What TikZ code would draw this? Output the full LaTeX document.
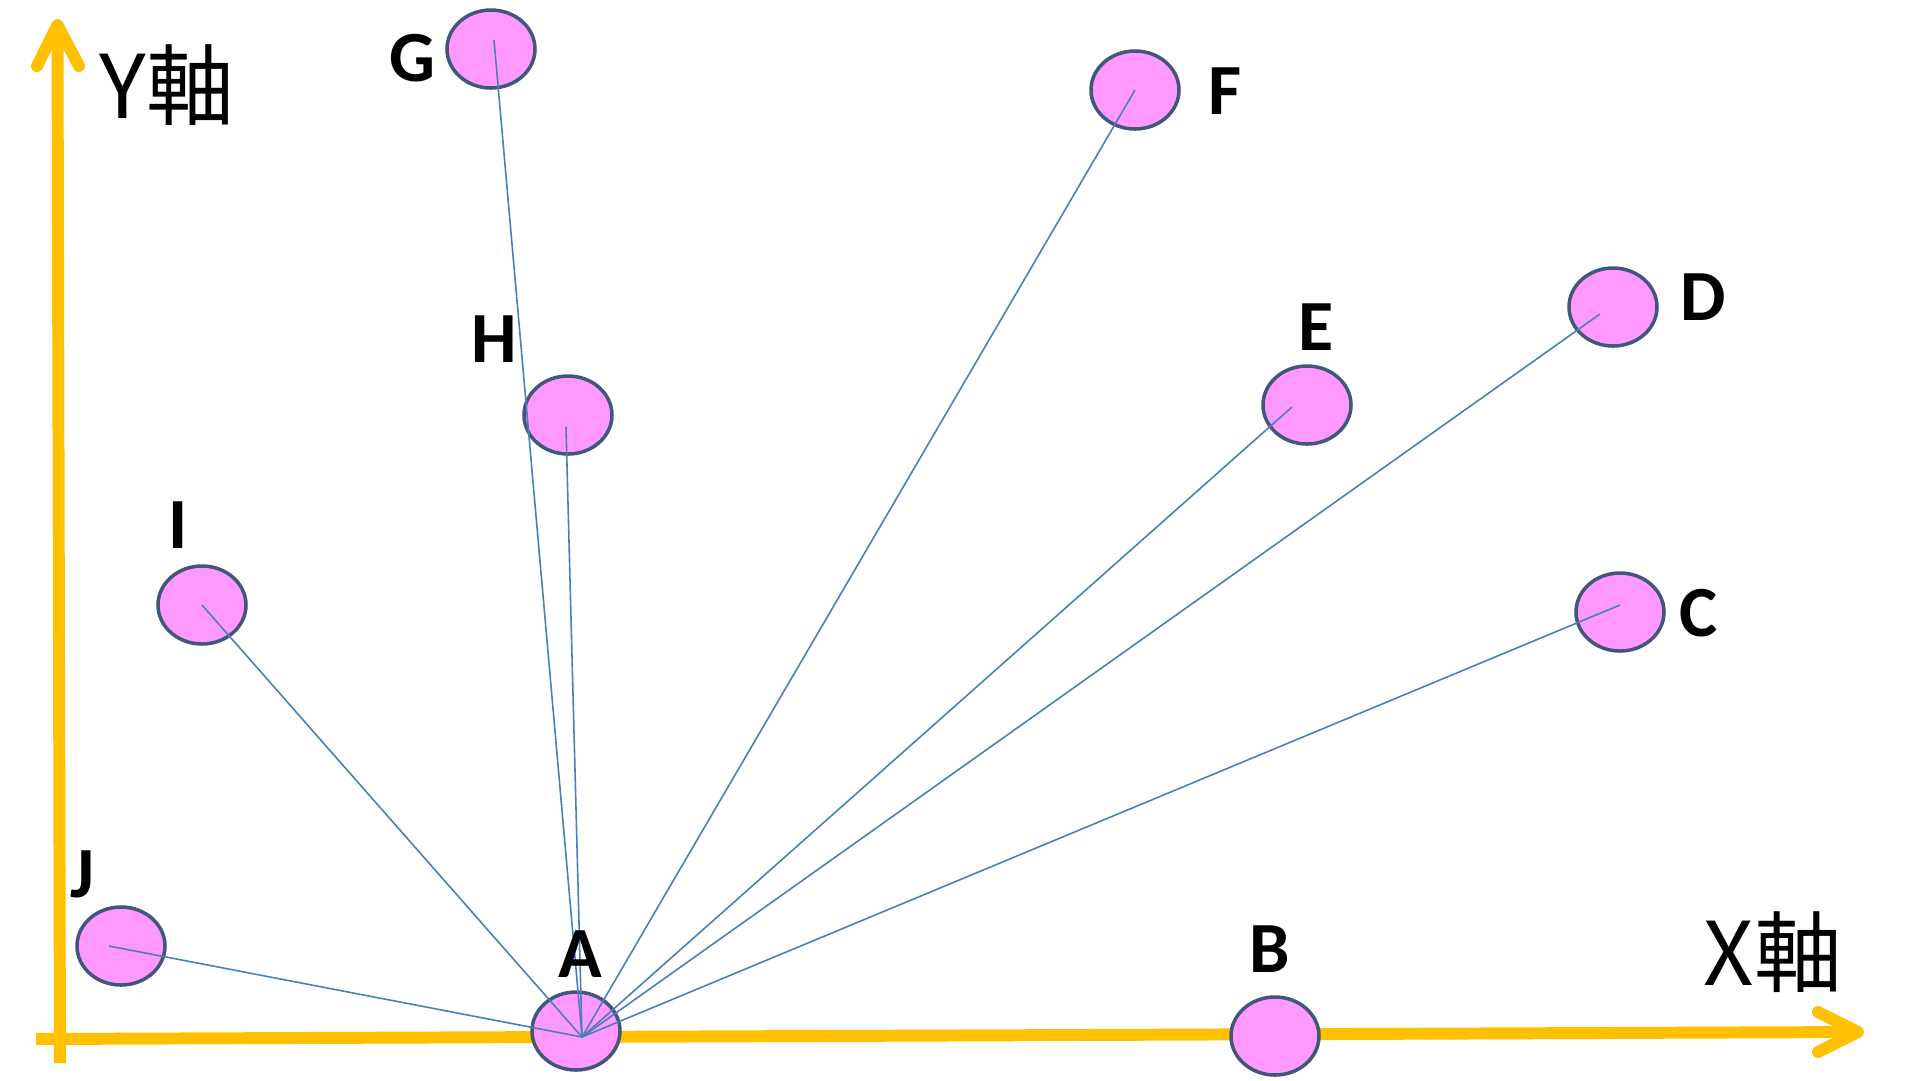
\documentclass[tikz,border=0pt]{standalone}
\usepackage{fontspec}
\setmainfont{Carlito}
\newfontfamily\jpfont{Noto Sans CJK JP}
\usetikzlibrary{shapes.geometric}
\definecolor{axisgold}{HTML}{FFC000}
\definecolor{ptfill}{HTML}{FF99FF}
\definecolor{ptline}{HTML}{41577A}
\definecolor{linkblue}{HTML}{4A7EBB}
\begin{document}
\begin{tikzpicture}[x=0.1mm,y=-0.1mm,
  ptnode/.style={ellipse, draw=ptline, line width=1pt, fill=ptfill,
    minimum width=8.8mm, minimum height=7.8mm, inner sep=0pt},
  lbl/.style={font=\bfseries\fontsize{20.5}{24}\selectfont, inner sep=0pt},
  axlbl/.style={font=\jpfont\fontsize{25}{30}\selectfont, inner sep=0pt},
  axisline/.style={draw=axisgold, line width=3.4pt},
  axhead/.style={draw=axisgold, line width=3.4pt, line cap=round, line join=round},
  link/.style={draw=linkblue, line width=0.45pt}]
\fill[white] (0,0) rectangle (1920,1080);
\useasboundingbox (0,0) rectangle (1920,1080);
% axes
\coordinate (yb) at (60,1063);
\coordinate (yt) at (57.5,25);
\coordinate (yl) at (37,66);
\coordinate (yr) at (79,66);
\draw[axisline] (yb) -- (yt);
\draw[axhead] (yl) -- (yt) -- (yr);
\coordinate (xl) at (36,1039);
\coordinate (xt) at (1858,1032);
\coordinate (xu) at (1818,1012);
\coordinate (xd) at (1818,1052);
\draw[axisline] (xl) -- (xt);
\draw[axhead] (xu) -- (xt) -- (xd);
% points
\node[ptnode] (A) at (576,1031) {};
\node[ptnode] (B) at (1275,1036) {};
\node[ptnode] (C) at (1620,612) {};
\node[ptnode] (D) at (1613,307) {};
\node[ptnode] (E) at (1307,405) {};
\node[ptnode] (F) at (1135,90) {};
\node[ptnode] (G) at (491,49) {};
\node[ptnode] (H) at (568,415) {};
\node[ptnode] (I) at (202,605) {};
\node[ptnode] (J) at (121,946) {};
% connectors
\coordinate (hub) at ([shift={(6,6)}]A.center);
\draw[link] ([shift={(0,-7)}]C.center) -- (hub);
\draw[link] ([shift={(-13,7)}]D.center) -- (hub);
\draw[link] ([shift={(-15,2)}]E.center) -- (hub);
\draw[link] (F.center) -- (hub);
\draw[link] ([shift={(3,-9)}]G.center) -- (hub);
\draw[link] ([shift={(-2,12)}]H.center) -- (hub);
\draw[link] (I.center) -- (hub);
\draw[link] ([shift={(-12,0)}]J.center) -- (hub);
% labels
\node[lbl] (lA) at (580,954) {A};
\node[lbl] (lB) at (1270,949) {B};
\node[lbl] (lC) at (1699,613) {C};
\node[lbl] (lD) at (1703,297) {D};
\node[lbl] (lE) at (1316,327) {E};
\node[lbl] (lF) at (1225,91) {F};
\node[lbl] (lG) at (412,58) {G};
\node[lbl] (lH) at (494,339) {H};
\node[lbl] (lI) at (178,525) {I};
\node[lbl] (lJ) at (82,874) {J};
\node[axlbl] (ylab) at (167,85) {Y軸};
\node[axlbl] (xlab) at (1773,952) {X軸};
\end{tikzpicture}
\end{document}
